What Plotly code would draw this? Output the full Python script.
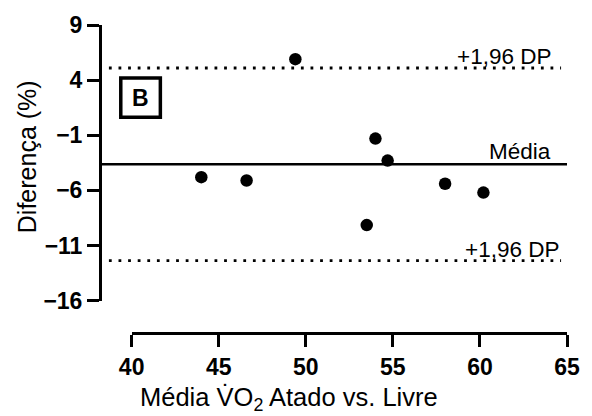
import plotly.graph_objects as go

# data
media_x = [44.0, 46.6, 49.4, 53.5, 54.0, 54.7, 58.0, 60.2]
diff_y = [-4.8, -5.1, 5.9, -9.15, -1.3, -3.3, -5.4, -6.2]
mean_diff = -3.62
upper_loa = 5.1
lower_loa = -12.38
x_ticks = [40, 45, 50, 55, 60, 65]
y_ticks = [9, 4, -1, -6, -11, -16]

W, H = 592, 416
L, R, T, B = 100, 20, 19, 83
pw, ph = W - L - R, H - T - B

def px(xp):
    return (xp - L) / pw

def py(yp):
    return (H - B - yp) / ph

FONT = "Liberation Sans, Arial, sans-serif"

fig = go.Figure()
fig.add_trace(go.Scatter(x=media_x, y=diff_y, mode="markers",
                         marker=dict(color="black", size=12.5),
                         cliponaxis=False, showlegend=False))

# reference lines
fig.add_shape(type="line", xref="paper", yref="y", x0=px(101), x1=px(572),
              y0=mean_diff, y1=mean_diff, line=dict(color="black", width=2.5))
for v in (upper_loa, lower_loa):
    fig.add_shape(type="line", xref="paper", yref="y", x0=px(109), x1=px(566),
                  y0=v, y1=v, line=dict(color="black", width=2.8, dash="2.8px,6.8px"))

ann_font = dict(family=FONT, size=22.5, color="black")
fig.add_annotation(xref="paper", yref="y", x=px(558), y=upper_loa, text="+1,96 DP",
                   xanchor="right", yanchor="bottom", showarrow=False, font=ann_font, yshift=-3)
fig.add_annotation(xref="paper", yref="y", x=px(558), y=mean_diff, text="Média",
                   xanchor="right", yanchor="bottom", showarrow=False, font=ann_font, yshift=-2)
fig.add_annotation(xref="paper", yref="y", x=px(566), y=lower_loa, text="+1,96 DP",
                   xanchor="right", yanchor="bottom", showarrow=False, font=ann_font, yshift=-3)

# B box
fig.add_shape(type="rect", xref="paper", yref="paper", x0=px(121), x1=px(161),
              y0=py(113), y1=py(73), line=dict(color="black", width=3.5))
fig.add_annotation(xref="paper", yref="paper", x=px(141), y=py(93), text="<b>B</b>",
                   showarrow=False, xanchor="center", yanchor="middle",
                   font=dict(family=FONT, size=23, color="black"))

# axis titles
fig.add_annotation(xref="paper", yref="paper", x=px(27), y=py(153),
                   text="Diferença (%)", textangle=-90, showarrow=False,
                   xanchor="center", yanchor="middle",
                   font=dict(family=FONT, size=25, color="black"))
fig.add_annotation(xref="paper", yref="paper", x=px(291), y=py(400),
                   text="Média V̇O<sub>2</sub> Atado vs. Livre", showarrow=False,
                   xanchor="center", yanchor="middle",
                   font=dict(family=FONT, size=25.5, color="black"))

tickfont = dict(family=FONT, size=23, color="black", weight="bold")
fig.update_layout(
    width=W, height=H,
    margin=dict(l=L, r=R, t=T, b=B),
    plot_bgcolor="white", paper_bgcolor="white",
    xaxis=dict(domain=[px(132), 1], range=[40, 65], anchor="free", position=0,
               tickvals=x_ticks, showline=True, linecolor="black", linewidth=3,
               ticks="outside", ticklen=12, tickwidth=3, tickcolor="black",
               showgrid=False, zeroline=False, tickfont=tickfont),
    yaxis=dict(domain=[py(300), 1], range=[-16, 9], anchor="free", position=0,
               tickvals=y_ticks, showline=True, linecolor="black", linewidth=3,
               ticks="outside", ticklen=12, tickwidth=3, tickcolor="black",
               showgrid=False, zeroline=False, tickfont=tickfont),
)

fig.write_html("out.html")
